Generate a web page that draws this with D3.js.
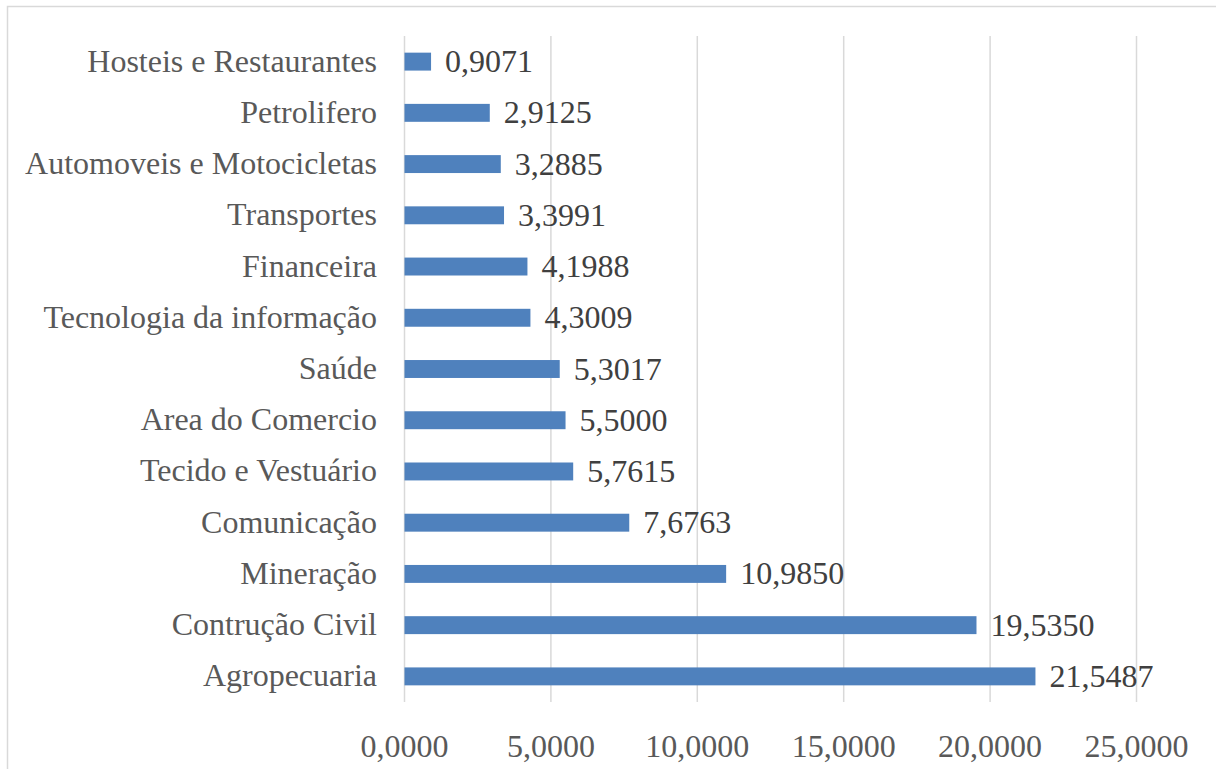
<!DOCTYPE html>
<html>
<head>
<meta charset="utf-8">
<script src="https://cdn.jsdelivr.net/npm/d3@7"></script>
<style>
  html, body { margin: 0; padding: 0; background: #fff; }
  svg { display: block; }
  text { font-family: "Liberation Serif", "Times New Roman", serif; }
</style>
</head>
<body>
<svg id="chart" width="1216" height="769"></svg>
<script>
const categories = [
  "Hosteis e Restaurantes",
  "Petrolifero",
  "Automoveis e Motocicletas",
  "Transportes",
  "Financeira",
  "Tecnologia da informação",
  "Saúde",
  "Area do Comercio",
  "Tecido e Vestuário",
  "Comunicação",
  "Mineração",
  "Contrução Civil",
  "Agropecuaria"
];
const values = [0.9071, 2.9125, 3.2885, 3.3991, 4.1988, 4.3009, 5.3017, 5.5000, 5.7615, 7.6763, 10.9850, 19.5350, 21.5487];
const valueLabels = ["0,9071", "2,9125", "3,2885", "3,3991", "4,1988", "4,3009", "5,3017", "5,5000", "5,7615", "7,6763", "10,9850", "19,5350", "21,5487"];
const tickValues = [0, 5, 10, 15, 20, 25];
const tickLabels = ["0,0000", "5,0000", "10,0000", "15,0000", "20,0000", "25,0000"];

const svg = d3.select("#chart");

// outer chart border
svg.append("rect")
  .attr("x", 7.5).attr("y", 6.5)
  .attr("width", 1230).attr("height", 800)
  .attr("fill", "none").attr("stroke", "#d9d9d9").attr("stroke-width", 1.5);

const plotLeft = 404.5, plotRight = 1136.5, plotTop = 36, plotBottom = 702;
const x = d3.scaleLinear().domain([0, 25]).range([plotLeft, plotRight]);
const y = d3.scaleBand().domain(categories).range([plotTop, plotBottom]).paddingInner(0.65).paddingOuter(0.325);

// gridlines
svg.append("g").selectAll("line").data(tickValues).join("line")
  .attr("x1", d => x(d)).attr("x2", d => x(d))
  .attr("y1", plotTop).attr("y2", plotBottom)
  .attr("stroke", "#d9d9d9").attr("stroke-width", 1.5);

// bars
svg.append("g").selectAll("rect").data(values).join("rect")
  .attr("x", x(0))
  .attr("y", (d, i) => y(categories[i]))
  .attr("width", d => x(d) - x(0))
  .attr("height", y.bandwidth())
  .attr("fill", "#4f81bd");

// value labels
svg.append("g").selectAll("text").data(values).join("text")
  .attr("x", d => x(d) + 14)
  .attr("y", (d, i) => y(categories[i]) + y.bandwidth() / 2 + 10.5)
  .attr("font-size", 32)
  .attr("fill", "#404040")
  .text((d, i) => valueLabels[i]);

// category labels
svg.append("g").selectAll("text").data(categories).join("text")
  .attr("x", 377)
  .attr("y", d => y(d) + y.bandwidth() / 2 + 10)
  .attr("text-anchor", "end")
  .attr("font-size", 32)
  .attr("fill", "#595959")
  .text(d => d);

// x tick labels
svg.append("g").selectAll("text").data(tickValues).join("text")
  .attr("x", d => x(d))
  .attr("y", 757)
  .attr("text-anchor", "middle")
  .attr("font-size", 32)
  .attr("fill", "#595959")
  .text((d, i) => tickLabels[i]);
</script>
</body>
</html>
